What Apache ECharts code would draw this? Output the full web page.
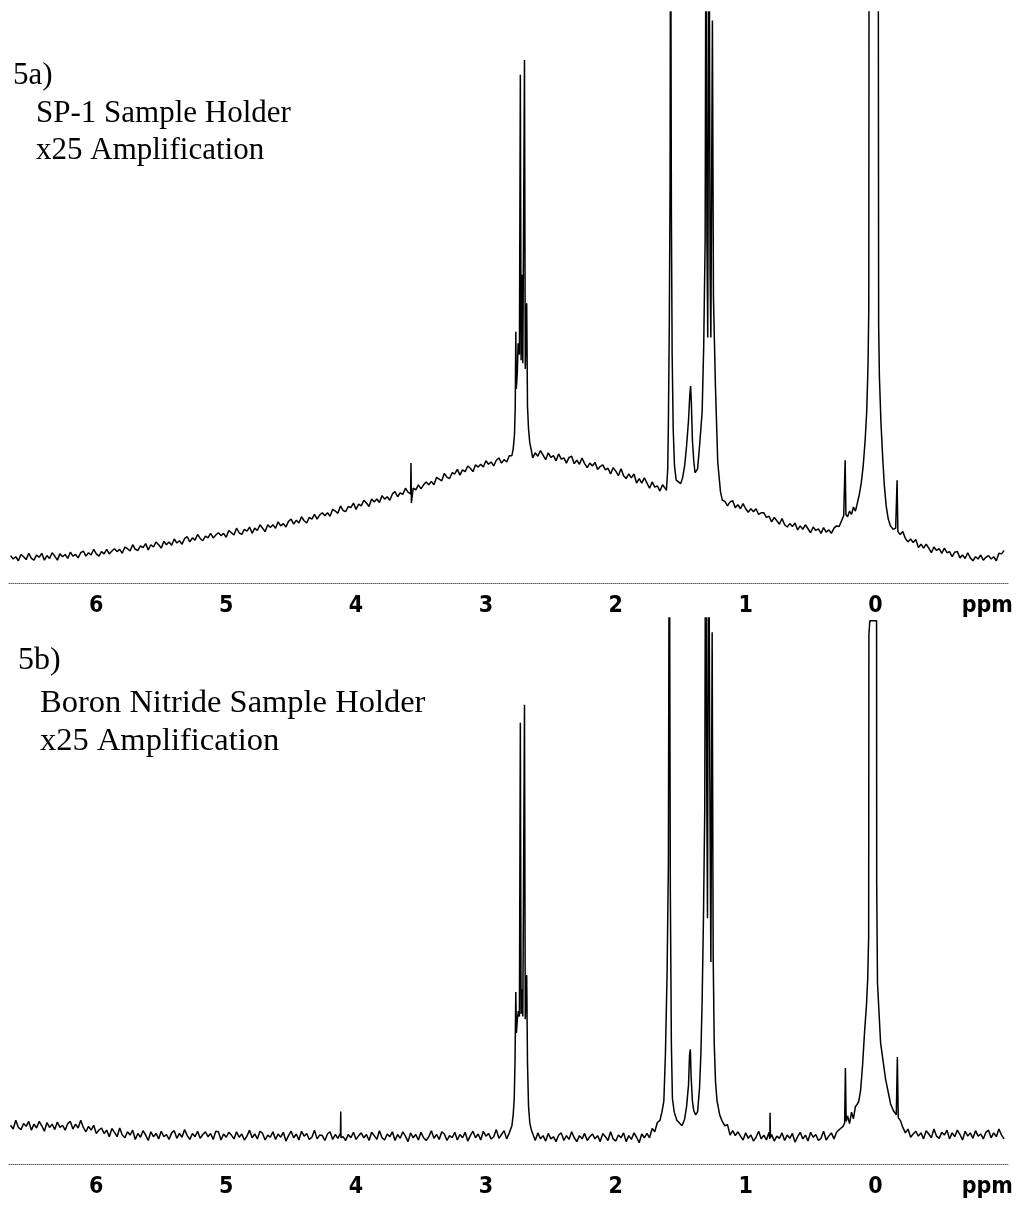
<!DOCTYPE html>
<html>
<head>
<meta charset="utf-8">
<title>5a / 5b NMR spectra</title>
<script src="https://cdn.jsdelivr.net/npm/echarts@6/dist/echarts.min.js"></script>
<style>
  html, body { margin: 0; padding: 0; background: #fff; }
  #chart { width: 1026px; height: 1209px; }
</style>
</head>
<body>
<div id="chart"></div>
<script>
// ppm positions of the axis labels (last one carries the "ppm" unit)
const ppmTicks = [6, 5, 4, 3, 2, 1, 0, -0.86];

// 5a) SP-1 sample holder, [ppm, intensity]
const spec5aLow = [
  [6.66,4.8],[6.64,4.2],[6.62,4.6],[6.60,3.9],[6.58,5.0],[6.56,4.6],[6.54,4.1],[6.52,5.2],[6.50,4.3],[6.48,4.0],
  [6.46,4.9],[6.44,4.5],[6.42,5.2],[6.40,4.0],[6.38,4.8],[6.36,4.3],[6.34,5.3],[6.32,4.7],[6.30,4.0],[6.28,5.1],
  [6.26,4.6],[6.24,5.0],[6.22,4.3],[6.20,5.4],[6.18,4.7],[6.16,5.0],[6.14,4.4],[6.12,5.3],[6.10,5.6],[6.08,4.7],
  [6.06,5.3],[6.04,4.9],[6.02,5.9],[6.00,5.1],[5.98,4.7],[5.96,5.5],[5.94,5.1],[5.92,5.9],[5.90,5.1],[5.88,5.6],
  [5.86,6.0],[5.84,5.5],[5.82,5.9],[5.80,5.2],[5.78,6.3],[5.76,6.0],[5.74,5.6],[5.72,6.7],[5.70,5.9],[5.68,5.7],
  [5.66,6.5],[5.64,6.2],[5.62,6.9],[5.60,5.8],[5.58,6.7],[5.56,6.3],[5.54,7.2],[5.52,6.7],[5.50,6.1],[5.48,7.3],
  [5.46,6.7],[5.44,7.2],[5.42,6.6],[5.40,7.7],[5.38,7.0],[5.36,7.4],[5.34,6.8],[5.32,7.8],[5.30,8.1],[5.28,7.2],
  [5.26,7.9],[5.24,7.5],[5.22,8.5],[5.20,7.8],[5.18,7.4],[5.16,8.2],[5.14,7.9],[5.12,8.7],[5.10,7.9],[5.08,8.4],
  [5.06,8.8],[5.04,8.3],[5.02,8.7],[5.00,8.0],[4.98,9.2],[4.96,8.8],[4.94,8.4],[4.92,9.6],[4.90,8.8],[4.88,8.5],
  [4.86,9.4],[4.84,9.1],[4.82,9.8],[4.80,8.7],[4.78,9.6],[4.76,9.2],[4.74,10.2],[4.72,9.6],[4.70,9.0],[4.68,10.2],
  [4.66,9.7],[4.64,10.2],[4.62,9.6],[4.60,10.7],[4.58,10.0],[4.56,10.4],[4.54,9.8],[4.52,10.8],[4.50,11.2],[4.48,10.3],
  [4.46,11.0],[4.44,10.5],[4.42,11.6],[4.40,10.9],[4.38,10.5],[4.36,11.5],[4.34,11.2],[4.32,12.0],[4.30,11.2],[4.28,11.9],
  [4.26,12.3],[4.24,11.8],[4.22,12.3],[4.20,11.7],[4.18,12.9],[4.16,12.6],[4.14,12.2],[4.12,13.5],[4.10,12.7],[4.08,12.5],
  [4.06,13.4],[4.04,13.2],[4.02,14.0],[4.00,12.9],[3.98,13.8],[3.96,13.5],[3.94,14.5],[3.92,14.0],[3.90,13.4],[3.88,14.7],
  [3.86,14.2],[3.84,14.7],[3.82,14.1],[3.80,15.3],[3.78,14.7],[3.76,15.1],[3.74,14.5],[3.72,15.6],[3.70,16.0],[3.68,15.1],
  [3.66,15.8],[3.64,15.5],[3.62,16.6],[3.60,15.9],[3.58,15.6],[3.577,21.0],[3.574,14.0],[3.56,16.6],[3.54,16.3],[3.52,17.2],
  [3.50,16.5],[3.48,17.2],[3.46,17.7],[3.44,17.2],[3.42,17.8],[3.40,17.2],[3.38,18.5],[3.36,18.2],[3.34,17.9],[3.32,19.2],
  [3.30,18.5],[3.28,18.3],[3.26,19.3],[3.24,19.1],[3.22,19.9],[3.20,18.9],[3.18,19.8],[3.16,19.5],[3.14,20.5],[3.12,20.1],
  [3.10,19.5],[3.08,20.7],[3.06,20.3],[3.04,20.8],[3.02,20.3],[3.00,21.4],[2.98,20.8],[2.96,21.2],[2.94,20.5],[2.92,21.5],
  [2.90,21.9],[2.88,21.0],[2.86,21.6],[2.84,21.2],[2.82,22.3]
];
const spec5aMid = [
  [2.80,22.3],[2.79,23.5],[2.78,26.0],[2.774,31.0],[2.770,44.0],[2.766,34.0],[2.758,37.0],[2.752,42.0],[2.742,40.0],[2.735,89.0],
  [2.729,39.0],[2.722,54.0],[2.716,38.5],[2.703,91.6],[2.697,37.5],[2.686,49.0],[2.680,31.0],[2.672,27.0],[2.662,24.5],[2.650,23.2],
  [2.64,21.9],[2.62,22.8],[2.60,22.2],[2.58,23.2],[2.56,22.4],[2.54,21.6],[2.52,22.8],[2.50,22.0],[2.48,22.3],[2.46,21.4],
  [2.44,22.6],[2.42,21.7],[2.40,21.9],[2.38,21.0],[2.36,22.0],[2.34,22.2],[2.32,20.9],[2.30,21.5],[2.28,20.8],[2.26,21.9],
  [2.24,20.9],[2.22,20.2],[2.20,21.0],[2.18,20.5],[2.16,21.1],[2.14,19.9],[2.12,20.4],[2.10,20.7],[2.08,19.8],[2.06,20.1],
  [2.04,19.1],[2.02,20.2],[2.00,19.6],[1.98,18.8],[1.96,20.0],[1.94,18.8],[1.92,18.3],[1.90,19.1],[1.88,18.4],[1.86,19.1],
  [1.84,17.5],[1.82,18.3],[1.80,17.5],[1.78,18.4],[1.76,17.5],[1.74,16.6],[1.72,17.7],[1.70,16.8],[1.68,17.0],[1.66,16.1],
  [1.64,17.2],[1.62,16.6],[1.61,16.2],[1.60,20.0],[1.595,28.0],[1.588,45.0],[1.582,70.0],
  [1.578,130],[1.572,65.0],[1.566,40.0],[1.558,27.0],[1.548,20.5],[1.535,18.0],[1.52,17.8],[1.50,17.4],[1.485,18.5],[1.47,20.5],
  [1.455,24.0],[1.44,28.5],[1.43,33.0],[1.424,34.5],[1.418,31.5],[1.41,25.0],[1.40,21.5],[1.39,19.3],[1.38,19.0],[1.37,20.0],
  [1.355,24.0],[1.335,30.0],[1.323,41.5],[1.312,60.0],[1.305,130],[1.298,60.0],[1.292,43.0],[1.282,130],[1.274,55.0],[1.268,43.0],
  [1.256,98.5],[1.248,50.0],[1.233,34.7],[1.215,21.2],[1.194,16.0],[1.18,14.5],
  [1.16,14.3],[1.14,13.5],[1.12,14.2],[1.10,14.4],[1.08,13.2],[1.06,13.7],[1.04,13.0],[1.02,13.9],[1.00,13.0],[0.98,12.4],
  [0.96,13.0],[0.94,12.5],[0.92,13.0],[0.90,12.0],[0.88,12.3],[0.86,12.3],[0.84,11.5],[0.82,11.7],[0.80,10.7],[0.78,11.5],
  [0.76,10.9],[0.74,10.3],[0.72,11.3],[0.70,10.2],[0.68,9.8],[0.66,10.4],[0.64,9.9],[0.62,10.5],[0.60,9.3],[0.58,10.0],
  [0.56,9.4],[0.54,10.2],[0.52,9.5],[0.50,8.8],[0.48,9.8],[0.46,9.2],[0.44,9.5],[0.42,8.7],[0.40,9.7],[0.38,8.9],
  [0.36,9.3],[0.34,8.7],[0.32,9.6],[0.30,10.0]
];
const spec5aHigh = [
  [0.28,9.9],[0.26,11.0],[0.245,11.8],[0.234,21.5],[0.228,12.0],[0.215,11.6],[0.20,12.6],[0.185,12.0],[0.17,13.3],[0.155,12.6],
  [0.14,14.0],[0.125,15.5],[0.11,17.5],[0.095,20.5],[0.08,25.0],[0.068,30.0],[0.058,38.0],[0.052,48.0],[0.049,140],[0.015,300],
  [-0.020,140],[-0.024,45.0],[-0.030,36.0],[-0.042,28.0],[-0.055,22.0],[-0.068,17.0],[-0.082,13.5],[-0.098,11.2],[-0.115,10.0],[-0.135,9.4],
  [-0.155,9.6],[-0.166,18.0],[-0.172,9.0],[-0.19,8.5],
  [-0.21,9.0],[-0.23,7.8],[-0.25,7.2],[-0.27,7.7],[-0.29,7.1],[-0.31,7.6],[-0.33,6.2],[-0.35,6.8],[-0.37,6.1],[-0.39,6.8],
  [-0.41,6.1],[-0.43,5.3],[-0.45,6.3],[-0.47,5.7],[-0.49,6.0],[-0.51,5.2],[-0.53,6.1],[-0.55,5.3],[-0.57,5.5],[-0.59,4.6],
  [-0.61,5.4],[-0.63,5.5],[-0.65,4.4],[-0.67,4.9],[-0.69,4.3],[-0.71,5.3],[-0.73,4.4],[-0.75,3.9],[-0.77,4.6],[-0.79,4.2],
  [-0.81,4.9],[-0.83,4.0],[-0.85,4.5],[-0.87,4.8],[-0.89,4.2],[-0.91,4.6],[-0.93,3.9],[-0.95,5.2],[-0.97,5.1],[-0.99,5.7]
];

// 5b) boron nitride sample holder, [ppm, intensity]
const spec5bLow = [
  [6.66,7.1],[6.64,6.4],[6.62,8.0],[6.60,6.7],[6.58,6.3],[6.56,7.4],[6.54,6.9],[6.52,7.8],[6.50,6.2],[6.48,7.3],
  [6.46,6.6],[6.44,7.8],[6.42,7.0],[6.40,6.0],[6.38,7.6],[6.36,6.7],[6.34,7.3],[6.32,6.3],[6.30,7.7],[6.28,6.7],
  [6.26,7.1],[6.24,6.2],[6.22,7.4],[6.20,7.8],[6.18,6.4],[6.16,7.3],[6.14,6.6],[6.12,8.0],[6.10,6.7],[6.08,5.9],
  [6.06,6.9],[6.04,6.2],[6.02,7.1],[6.00,5.6],[5.98,6.2],[5.96,6.6],[5.94,5.6],[5.92,6.2],[5.90,5.0],[5.88,6.5],
  [5.86,5.8],[5.84,5.0],[5.82,6.6],[5.80,5.3],[5.78,4.8],[5.76,5.9],[5.74,5.3],[5.72,6.2],[5.70,4.5],[5.68,5.6],
  [5.66,4.9],[5.64,6.1],[5.62,5.3],[5.60,4.3],[5.58,5.9],[5.56,5.0],[5.54,5.6],[5.52,4.6],[5.50,6.0],[5.48,5.0],
  [5.46,5.4],[5.44,4.5],[5.42,5.7],[5.40,6.1],[5.38,4.7],[5.36,5.6],[5.34,4.9],[5.32,6.3],[5.30,5.2],[5.28,4.5],
  [5.26,5.6],[5.24,5.0],[5.22,6.0],[5.20,4.7],[5.18,5.4],[5.16,5.9],[5.14,5.0],[5.12,5.6],[5.10,4.5],[5.08,6.0],
  [5.06,5.9],[5.04,4.4],[5.02,5.5],[5.00,4.9],[4.98,5.8],[4.96,5.3],[4.94,4.6],[4.92,5.9],[4.90,4.9],[4.88,5.5],
  [4.86,4.4],[4.84,5.1],[4.82,6.2],[4.80,4.8],[4.78,5.5],[4.76,4.6],[4.74,6.0],[4.72,5.6],[4.70,4.4],[4.68,5.3],
  [4.66,4.9],[4.64,5.9],[4.62,4.5],[4.60,5.5],[4.58,4.9],[4.56,5.8],[4.54,4.2],[4.52,5.2],[4.50,6.0],[4.48,4.8],
  [4.46,5.5],[4.44,4.4],[4.42,6.0],[4.40,5.1],[4.38,5.6],[4.36,4.5],[4.34,4.9],[4.32,6.2],[4.30,4.6],[4.28,5.3],
  [4.26,5.2],[4.24,4.3],[4.22,5.5],[4.20,5.9],[4.18,4.5],[4.16,5.4],[4.14,4.7],[4.12,5.6],[4.118,9.6],[4.116,4.8],
  [4.10,5.0],[4.08,4.3],[4.06,5.4],[4.04,4.8],[4.02,5.8],[4.00,4.5],[3.98,5.2],[3.96,5.7],[3.94,4.8],[3.92,5.4],
  [3.90,4.3],[3.88,5.8],[3.86,5.2],[3.84,4.5],[3.82,6.1],[3.80,4.8],[3.78,4.4],[3.76,5.5],[3.74,5.0],[3.72,5.9],
  [3.70,4.3],[3.68,5.4],[3.66,4.7],[3.64,5.9],[3.62,5.1],[3.60,4.1],[3.58,5.7],[3.56,4.8],[3.54,5.4],[3.52,4.4],
  [3.50,5.8],[3.48,4.8],[3.46,4.3],[3.44,5.0],[3.42,6.1],[3.40,4.7],[3.38,5.4],[3.36,4.5],[3.34,5.9],[3.32,5.5],
  [3.30,4.3],[3.28,5.2],[3.26,4.8],[3.24,5.8],[3.22,4.4],[3.20,5.4],[3.18,4.8],[3.16,5.8],[3.14,4.2],[3.12,5.2],
  [3.10,6.0],[3.08,4.8],[3.06,5.5],[3.04,4.4],[3.02,6.0],[3.00,5.1],[2.98,5.6],[2.96,4.6],[2.94,5.0],[2.92,6.3],
  [2.90,4.7],[2.88,5.4],[2.86,6.1],[2.84,4.6],[2.82,5.7]
];
const spec5bMid = [
  [2.80,7.0],[2.79,9.0],[2.782,12.0],[2.776,18.7],[2.770,31.5],[2.765,24.0],[2.758,26.5],[2.750,28.0],[2.742,27.0],[2.735,80.8],
  [2.729,27.5],[2.722,32.0],[2.716,27.0],[2.703,84.1],[2.697,26.5],[2.686,34.6],[2.680,18.7],[2.672,10.6],[2.662,7.5],[2.650,6.2],
  [2.64,5.6],[2.62,4.3],[2.60,5.7],[2.58,4.6],[2.56,5.2],[2.54,4.2],[2.52,5.6],[2.50,4.6],[2.48,5.0],[2.46,4.1],
  [2.44,5.3],[2.42,5.7],[2.40,4.3],[2.38,5.2],[2.36,4.5],[2.34,5.9],[2.32,4.8],[2.30,4.1],[2.28,5.2],[2.26,4.6],
  [2.24,5.6],[2.22,4.3],[2.20,5.0],[2.18,5.5],[2.16,4.6],[2.14,5.2],[2.12,4.1],[2.10,5.6],[2.08,5.0],[2.06,4.3],
  [2.04,5.9],[2.02,4.6],[2.00,4.2],[1.98,5.3],[1.96,4.8],[1.94,5.7],[1.92,4.1],[1.90,5.2],[1.88,4.5],[1.86,5.7],
  [1.84,4.9],[1.82,3.9],[1.80,5.5],[1.78,4.8],[1.76,5.6],[1.74,4.8],[1.72,6.5],[1.70,5.9],
  [1.68,7.6],[1.66,8.0],[1.645,9.5],[1.63,11.5],[1.618,20.0],[1.605,35.0],[1.595,55.0],[1.588,130],
  [1.580,50.0],[1.572,22.0],[1.564,12.0],[1.55,9.5],[1.53,8.0],[1.51,7.5],[1.49,7.0],[1.47,8.2],[1.455,10.5],[1.44,14.5],
  [1.432,20.0],[1.426,21.0],[1.42,16.0],[1.41,11.5],[1.40,9.8],[1.385,9.0],[1.37,9.6],[1.355,14.0],[1.345,20.0],[1.335,30.0],
  [1.325,45.0],[1.315,65.0],[1.308,130],[1.300,71.0],[1.294,45.0],[1.285,130],[1.276,71.0],[1.268,37.0],[1.258,97.4],[1.250,37.9],
  [1.242,22.0],[1.232,15.0],[1.22,11.5],[1.20,9.0],[1.18,7.8],[1.16,7.0],
  [1.14,7.2],[1.12,5.3],[1.10,6.1],[1.08,5.2],[1.06,5.9],[1.04,5.1],[1.02,4.4],[1.00,5.7],[0.98,4.7],[0.96,5.3],
  [0.94,4.2],[0.92,4.9],[0.90,6.0],[0.88,4.6],[0.86,5.3],[0.84,4.4],[0.82,5.8],[0.814,4.6],[0.812,9.4],[0.809,4.8],
  [0.80,5.4],[0.78,4.2],[0.76,5.1],[0.74,4.7],[0.72,5.7],[0.70,4.3],[0.68,5.3],[0.66,4.7],[0.64,5.6],[0.62,4.0],
  [0.60,5.0],[0.58,5.8],[0.56,4.6],[0.54,5.3],[0.52,4.2],[0.50,5.8],[0.48,4.9],[0.46,5.4],[0.44,4.3],[0.42,4.7],
  [0.40,6.0],[0.38,4.4],[0.36,5.1],[0.34,5.7],[0.32,4.6],[0.30,5.8]
];
const spec5bHigh = [
  [0.27,6.5],[0.25,6.9],[0.238,7.5],[0.232,17.6],[0.226,7.8],[0.215,8.8],[0.20,7.4],[0.185,9.5],[0.17,8.3],[0.155,10.5],
  [0.14,11.0],[0.13,11.4],[0.115,13.5],[0.10,18.0],[0.085,24.0],[0.07,29.0],[0.06,34.0],[0.053,41.6],[0.051,97.0],[0.045,97.0],
  [0.044,99.5],[-0.008,99.5],[-0.009,51.3],[-0.015,33.2],[-0.039,22.2],[-0.077,15.6],[-0.116,11.0],[-0.139,9.7],[-0.160,9.0],[-0.168,19.6],
  [-0.175,8.5],[-0.193,7.9],
  [-0.21,6.7],[-0.23,5.7],[-0.25,6.4],[-0.27,4.9],[-0.29,5.5],[-0.31,6.0],[-0.33,5.1],[-0.35,5.7],[-0.37,4.6],[-0.39,6.1],
  [-0.41,5.5],[-0.43,4.8],[-0.45,6.4],[-0.47,5.1],[-0.49,4.7],[-0.51,5.8],[-0.53,5.3],[-0.55,6.2],[-0.57,4.6],[-0.59,5.7],
  [-0.61,5.0],[-0.63,6.2],[-0.65,5.4],[-0.67,4.4],[-0.69,6.0],[-0.71,5.1],[-0.73,5.7],[-0.75,4.7],[-0.77,6.1],[-0.79,5.1],
  [-0.81,5.5],[-0.83,4.6],[-0.85,5.8],[-0.87,6.2],[-0.89,4.8],[-0.91,5.7],[-0.93,5.0],[-0.95,6.4],[-0.97,5.3],[-0.99,4.6]
];

const spec5a = spec5aLow.concat(spec5aMid, spec5aHigh);
const spec5b = spec5bLow.concat(spec5bMid, spec5bHigh);

const serif = '"Liberation Serif", "Times New Roman", serif';

function ppmAxis(gridIndex) {
  return {
    type: 'value',
    gridIndex: gridIndex,
    inverse: true,
    min: -1.02,
    max: 6.68,
    axisLine: { show: true, onZero: false, lineStyle: { color: '#666', width: 1, type: [1, 1] } },
    axisTick: { show: false },
    splitLine: { show: false },
    axisLabel: {
      customValues: ppmTicks,
      formatter: (v) => (v < -0.5 ? 'ppm' : String(v)),
      color: '#000',
      fontFamily: '"DejaVu Sans Condensed", "Liberation Sans", Arial, sans-serif',
      fontWeight: 'bold',
      fontSize: 23,
      margin: 12
    }
  };
}

function trace(index, data) {
  return {
    type: 'line',
    xAxisIndex: index,
    yAxisIndex: index,
    data: data,
    symbol: 'none',
    showSymbol: false,
    clip: true,
    silent: true,
    lineStyle: { color: '#000', width: 1.5 }
  };
}

function label(x, y, text, size) {
  return {
    type: 'text',
    x: x,
    y: y,
    style: { text: text, font: size + 'px ' + serif, fill: '#000', verticalAlign: 'middle' }
  };
}

const chart = echarts.init(document.getElementById('chart'));
chart.setOption({
  animation: false,
  backgroundColor: '#fff',
  grid: [
    { left: 8, right: 18, top: 12, height: 571 },
    { left: 8, right: 18, top: 618, height: 546 }
  ],
  xAxis: [ppmAxis(0), ppmAxis(1)],
  yAxis: [
    { type: 'value', gridIndex: 0, min: 0, max: 100, show: false },
    { type: 'value', gridIndex: 1, min: 0, max: 100, show: false }
  ],
  series: [trace(0, spec5a), trace(1, spec5b)],
  graphic: [
    label(13, 76, '5a)', 31),
    label(36, 114, 'SP-1 Sample Holder', 31),
    label(36, 151, 'x25 Amplification', 31),
    label(18, 661, '5b)', 32),
    label(40, 703, 'Boron Nitride Sample Holder', 32.5),
    label(40, 741, 'x25 Amplification', 32.5)
  ]
});
</script>
</body>
</html>
